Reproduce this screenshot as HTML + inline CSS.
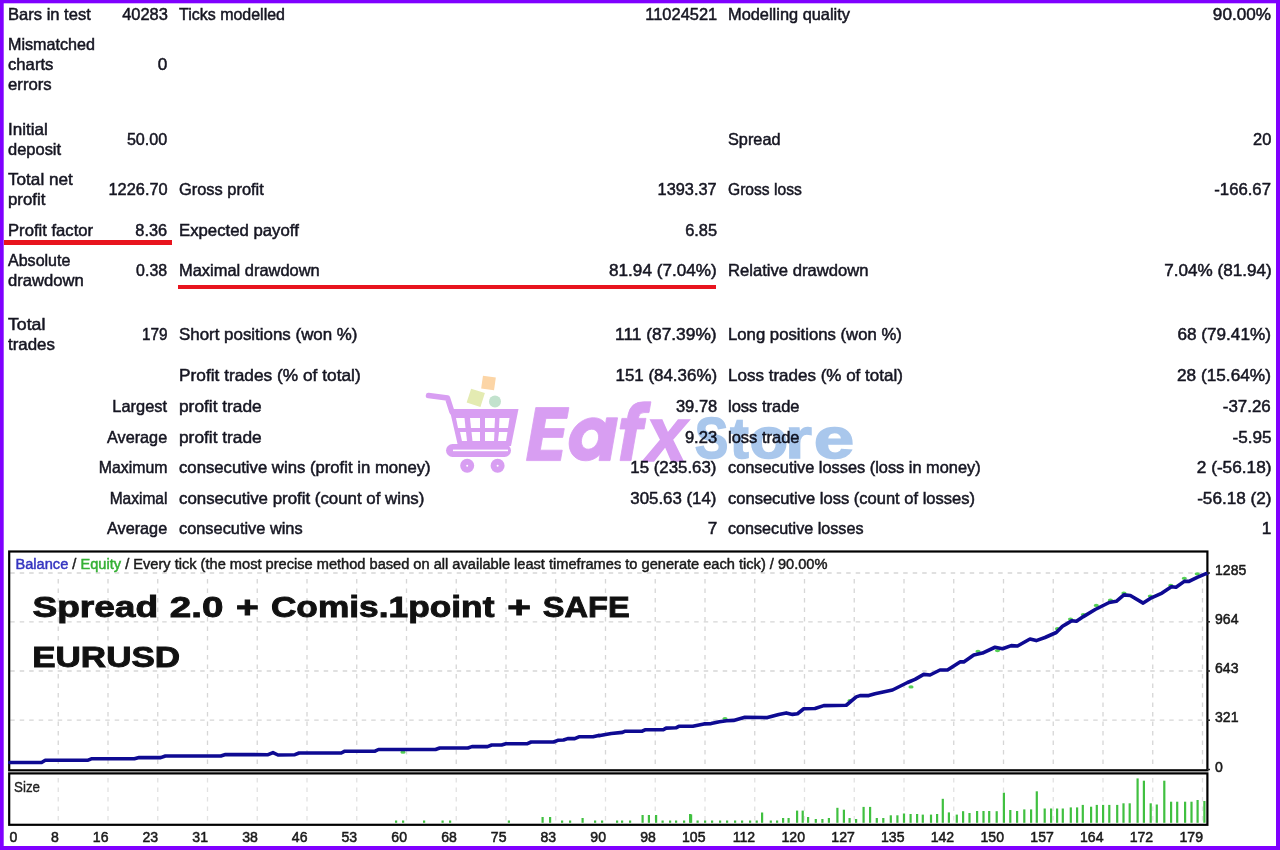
<!DOCTYPE html>
<html><head><meta charset="utf-8">
<style>
html,body{margin:0;padding:0;}
body{width:1280px;height:850px;overflow:hidden;background:#fff;position:relative;filter:blur(0.3px);font-family:"Liberation Sans",sans-serif;}
.frame{position:absolute;left:0;top:0;width:1280px;height:850px;box-sizing:border-box;border-style:solid;border-color:#7f00ff;border-width:3px 4px 4px 3px;pointer-events:none;z-index:10}
.t{position:absolute;white-space:pre;font-size:16.5px;line-height:20px;color:#161622;-webkit-text-stroke:0.5px #161622;}
.ul{position:absolute;background:#e8141e;height:4.5px;}
svg{position:absolute;left:0;top:0;}
</style></head><body>
<div class="t" style="left:7.8px;top:3.63px;transform-origin:0 0;transform:scaleX(1.0031)">Bars in test</div>
<div class="t" style="left:7.8px;top:34.03px;transform-origin:0 0;transform:scaleX(0.9780)">Mismatched</div>
<div class="t" style="left:7.8px;top:54.03px;transform-origin:0 0;transform:scaleX(1.0103)">charts</div>
<div class="t" style="left:7.8px;top:74.03px;transform-origin:0 0;transform:scaleX(1.0141)">errors</div>
<div class="t" style="left:7.8px;top:118.73px;transform-origin:0 0;transform:scaleX(1.0329)">Initial</div>
<div class="t" style="left:7.8px;top:138.73px;transform-origin:0 0;transform:scaleX(0.9978)">deposit</div>
<div class="t" style="left:7.8px;top:169.03px;transform-origin:0 0;transform:scaleX(1.0389)">Total net</div>
<div class="t" style="left:7.8px;top:189.03px;transform-origin:0 0;transform:scaleX(1.0194)">profit</div>
<div class="t" style="left:7.8px;top:219.53px;transform-origin:0 0;transform:scaleX(1.0086)">Profit factor</div>
<div class="t" style="left:7.8px;top:250.03px;transform-origin:0 0;transform:scaleX(0.9717)">Absolute</div>
<div class="t" style="left:7.8px;top:270.03px;transform-origin:0 0;transform:scaleX(1.0077)">drawdown</div>
<div class="t" style="left:7.8px;top:314.33px;transform-origin:0 0;transform:scaleX(1.0729)">Total</div>
<div class="t" style="left:7.8px;top:334.03px;transform-origin:0 0;transform:scaleX(1.0227)">trades</div>
<div class="t" style="left:121.5px;top:3.63px;transform-origin:100% 0;transform:scaleX(0.9969)">40283</div>
<div class="t" style="left:158.2px;top:54.03px;transform-origin:100% 0;transform:scaleX(1.0400)">0</div>
<div class="t" style="left:126.1px;top:128.53px;transform-origin:100% 0;transform:scaleX(0.9783)">50.00</div>
<div class="t" style="left:107.7px;top:178.53px;transform-origin:100% 0;transform:scaleX(0.9924)">1226.70</div>
<div class="t" style="left:135.3px;top:219.53px;transform-origin:100% 0;transform:scaleX(0.9899)">8.36</div>
<div class="t" style="left:135.3px;top:259.53px;transform-origin:100% 0;transform:scaleX(0.9650)">0.38</div>
<div class="t" style="left:139.9px;top:324.03px;transform-origin:100% 0;transform:scaleX(0.9299)">179</div>
<div class="t" style="left:112.4px;top:396.33px;transform-origin:100% 0;transform:scaleX(0.9937)">Largest</div>
<div class="t" style="left:106.2px;top:426.53px;transform-origin:100% 0;transform:scaleX(0.9841)">Average</div>
<div class="t" style="left:95.9px;top:457.43px;transform-origin:100% 0;transform:scaleX(0.9606)">Maximum</div>
<div class="t" style="left:106.0px;top:488.03px;transform-origin:100% 0;transform:scaleX(0.9408)">Maximal</div>
<div class="t" style="left:106.2px;top:518.43px;transform-origin:100% 0;transform:scaleX(0.9841)">Average</div>
<div class="t" style="left:178.8px;top:3.63px;transform-origin:0 0;transform:scaleX(0.9686)">Ticks modelled</div>
<div class="t" style="left:178.8px;top:178.53px;transform-origin:0 0;transform:scaleX(0.9944)">Gross profit</div>
<div class="t" style="left:178.8px;top:219.53px;transform-origin:0 0;transform:scaleX(1.0150)">Expected payoff</div>
<div class="t" style="left:178.8px;top:259.73px;transform-origin:0 0;transform:scaleX(0.9963)">Maximal drawdown</div>
<div class="t" style="left:178.8px;top:323.73px;transform-origin:0 0;transform:scaleX(1.0244)">Short positions (won %)</div>
<div class="t" style="left:178.8px;top:365.03px;transform-origin:0 0;transform:scaleX(1.0483)">Profit trades (% of total)</div>
<div class="t" style="left:178.8px;top:396.33px;transform-origin:0 0;transform:scaleX(1.0485)">profit trade</div>
<div class="t" style="left:178.8px;top:426.53px;transform-origin:0 0;transform:scaleX(1.0485)">profit trade</div>
<div class="t" style="left:178.8px;top:457.43px;transform-origin:0 0;transform:scaleX(1.0124)">consecutive wins (profit in money)</div>
<div class="t" style="left:178.8px;top:488.03px;transform-origin:0 0;transform:scaleX(1.0213)">consecutive profit (count of wins)</div>
<div class="t" style="left:178.8px;top:518.43px;transform-origin:0 0;transform:scaleX(0.9909)">consecutive wins</div>
<div class="t" style="left:644.6px;top:3.63px;transform-origin:100% 0;transform:scaleX(0.9960)">11024521</div>
<div class="t" style="left:657.1px;top:178.53px;transform-origin:100% 0;transform:scaleX(0.9907)">1393.37</div>
<div class="t" style="left:684.7px;top:219.53px;transform-origin:100% 0;transform:scaleX(0.9961)">6.85</div>
<div class="t" style="left:613.1px;top:259.73px;transform-origin:100% 0;transform:scaleX(1.0380)">81.94 (7.04%)</div>
<div class="t" style="left:620.2px;top:323.73px;transform-origin:100% 0;transform:scaleX(1.0515)">111 (87.39%)</div>
<div class="t" style="left:617.7px;top:365.03px;transform-origin:100% 0;transform:scaleX(1.0255)">151 (84.36%)</div>
<div class="t" style="left:675.5px;top:396.33px;transform-origin:100% 0;transform:scaleX(1.0025)">39.78</div>
<div class="t" style="left:684.7px;top:426.53px;transform-origin:100% 0;transform:scaleX(1.0023)">9.23</div>
<div class="t" style="left:632.4px;top:457.43px;transform-origin:100% 0;transform:scaleX(1.0201)">15 (235.63)</div>
<div class="t" style="left:632.4px;top:488.03px;transform-origin:100% 0;transform:scaleX(1.0201)">305.63 (14)</div>
<div class="t" style="left:707.6px;top:518.43px;transform-origin:100% 0;transform:scaleX(1.0400)">7</div>
<div class="t" style="left:727.7px;top:3.63px;transform-origin:0 0;transform:scaleX(0.9926)">Modelling quality</div>
<div class="t" style="left:727.7px;top:128.53px;transform-origin:0 0;transform:scaleX(0.9865)">Spread</div>
<div class="t" style="left:727.7px;top:178.53px;transform-origin:0 0;transform:scaleX(0.9469)">Gross loss</div>
<div class="t" style="left:727.7px;top:259.73px;transform-origin:0 0;transform:scaleX(1.0071)">Relative drawdown</div>
<div class="t" style="left:727.7px;top:323.73px;transform-origin:0 0;transform:scaleX(1.0139)">Long positions (won %)</div>
<div class="t" style="left:727.7px;top:365.03px;transform-origin:0 0;transform:scaleX(1.0308)">Loss trades (% of total)</div>
<div class="t" style="left:727.7px;top:396.33px;transform-origin:0 0;transform:scaleX(0.9993)">loss trade</div>
<div class="t" style="left:727.7px;top:426.53px;transform-origin:0 0;transform:scaleX(0.9993)">loss trade</div>
<div class="t" style="left:727.7px;top:457.43px;transform-origin:0 0;transform:scaleX(0.9908)">consecutive losses (loss in money)</div>
<div class="t" style="left:727.7px;top:488.03px;transform-origin:0 0;transform:scaleX(1.0012)">consecutive loss (count of losses)</div>
<div class="t" style="left:727.7px;top:518.43px;transform-origin:0 0;transform:scaleX(0.9783)">consecutive losses</div>
<div class="t" style="left:1215.2px;top:3.63px;transform-origin:100% 0;transform:scaleX(1.0381)">90.00%</div>
<div class="t" style="left:1252.8px;top:128.53px;transform-origin:100% 0;transform:scaleX(0.9968)">20</div>
<div class="t" style="left:1215.2px;top:178.53px;transform-origin:100% 0;transform:scaleX(1.0131)">-166.67</div>
<div class="t" style="left:1167.5px;top:259.73px;transform-origin:100% 0;transform:scaleX(1.0371)">7.04% (81.94)</div>
<div class="t" style="left:1181.3px;top:323.73px;transform-origin:100% 0;transform:scaleX(1.0390)">68 (79.41%)</div>
<div class="t" style="left:1181.3px;top:365.03px;transform-origin:100% 0;transform:scaleX(1.0446)">28 (15.64%)</div>
<div class="t" style="left:1224.4px;top:396.33px;transform-origin:100% 0;transform:scaleX(1.0257)">-37.26</div>
<div class="t" style="left:1233.6px;top:426.53px;transform-origin:100% 0;transform:scaleX(1.0396)">-5.95</div>
<div class="t" style="left:1199.7px;top:457.43px;transform-origin:100% 0;transform:scaleX(1.0455)">2 (-56.18)</div>
<div class="t" style="left:1199.7px;top:488.03px;transform-origin:100% 0;transform:scaleX(1.0399)">-56.18 (2)</div>
<div class="t" style="left:1262.0px;top:518.43px;transform-origin:100% 0;transform:scaleX(1.0400)">1</div>
<div class="ul" style="left:4px;top:240px;width:168px;"></div>
<div class="ul" style="left:178px;top:284.5px;width:538px;"></div>

<svg width="1280" height="850" viewBox="0 0 1280 850">
 <g stroke="#d6d6d6" stroke-width="1.3" stroke-dasharray="4.5 5" fill="none">
<line x1="58.25" y1="579" x2="58.25" y2="769.3"/>
<line x1="108.00" y1="579" x2="108.00" y2="769.3"/>
<line x1="157.75" y1="579" x2="157.75" y2="769.3"/>
<line x1="207.50" y1="579" x2="207.50" y2="769.3"/>
<line x1="257.25" y1="579" x2="257.25" y2="769.3"/>
<line x1="307.00" y1="579" x2="307.00" y2="769.3"/>
<line x1="356.75" y1="579" x2="356.75" y2="769.3"/>
<line x1="406.50" y1="579" x2="406.50" y2="769.3"/>
<line x1="456.25" y1="579" x2="456.25" y2="769.3"/>
<line x1="506.00" y1="579" x2="506.00" y2="769.3"/>
<line x1="555.75" y1="579" x2="555.75" y2="769.3"/>
<line x1="605.50" y1="579" x2="605.50" y2="769.3"/>
<line x1="655.25" y1="579" x2="655.25" y2="769.3"/>
<line x1="705.00" y1="579" x2="705.00" y2="769.3"/>
<line x1="754.75" y1="579" x2="754.75" y2="769.3"/>
<line x1="804.50" y1="579" x2="804.50" y2="769.3"/>
<line x1="854.25" y1="579" x2="854.25" y2="769.3"/>
<line x1="904.00" y1="579" x2="904.00" y2="769.3"/>
<line x1="953.75" y1="579" x2="953.75" y2="769.3"/>
<line x1="1003.50" y1="579" x2="1003.50" y2="769.3"/>
<line x1="1053.25" y1="579" x2="1053.25" y2="769.3"/>
<line x1="1103.00" y1="579" x2="1103.00" y2="769.3"/>
<line x1="1152.75" y1="579" x2="1152.75" y2="769.3"/>
<line x1="1202.50" y1="579" x2="1202.50" y2="769.3"/>
<line x1="10.2" y1="573" x2="1206.4" y2="573"/>
<line x1="10.2" y1="621.8" x2="1206.4" y2="621.8"/>
<line x1="10.2" y1="671" x2="1206.4" y2="671"/>
<line x1="10.2" y1="720.2" x2="1206.4" y2="720.2"/>
 </g>
 <g stroke="#e2e2e2" stroke-width="1.3" stroke-dasharray="4.5 5" fill="none">
<line x1="58.25" y1="778" x2="58.25" y2="823"/>
<line x1="108.00" y1="778" x2="108.00" y2="823"/>
<line x1="157.75" y1="778" x2="157.75" y2="823"/>
<line x1="207.50" y1="778" x2="207.50" y2="823"/>
<line x1="257.25" y1="778" x2="257.25" y2="823"/>
<line x1="307.00" y1="778" x2="307.00" y2="823"/>
<line x1="356.75" y1="778" x2="356.75" y2="823"/>
<line x1="406.50" y1="778" x2="406.50" y2="823"/>
<line x1="456.25" y1="778" x2="456.25" y2="823"/>
<line x1="506.00" y1="778" x2="506.00" y2="823"/>
<line x1="555.75" y1="778" x2="555.75" y2="823"/>
<line x1="605.50" y1="778" x2="605.50" y2="823"/>
<line x1="655.25" y1="778" x2="655.25" y2="823"/>
<line x1="705.00" y1="778" x2="705.00" y2="823"/>
<line x1="754.75" y1="778" x2="754.75" y2="823"/>
<line x1="804.50" y1="778" x2="804.50" y2="823"/>
<line x1="854.25" y1="778" x2="854.25" y2="823"/>
<line x1="904.00" y1="778" x2="904.00" y2="823"/>
<line x1="953.75" y1="778" x2="953.75" y2="823"/>
<line x1="1003.50" y1="778" x2="1003.50" y2="823"/>
<line x1="1053.25" y1="778" x2="1053.25" y2="823"/>
<line x1="1103.00" y1="778" x2="1103.00" y2="823"/>
<line x1="1152.75" y1="778" x2="1152.75" y2="823"/>
<line x1="1202.50" y1="778" x2="1202.50" y2="823"/>
 </g>
 <rect x="9.2" y="551.5" width="1198.2" height="218.79999999999995" fill="none" stroke="#000" stroke-width="2.2"/>
 <rect x="9.2" y="773.4" width="1198.2" height="51.4" fill="none" stroke="#000" stroke-width="2.2"/>
 <g fill="#40c040">
<rect x="541.5" y="817.0" width="2.2" height="5.8"/>
<rect x="549.0" y="817.0" width="2.2" height="5.8"/>
<rect x="581.5" y="818.0" width="2.2" height="4.8"/>
<rect x="641.5" y="815.0" width="2.2" height="7.8"/>
<rect x="647.8" y="815.0" width="2.2" height="7.8"/>
<rect x="655.0" y="815.0" width="2.2" height="7.8"/>
<rect x="689.0" y="814.0" width="2.2" height="8.8"/>
<rect x="690.0" y="814.4" width="2.2" height="8.4"/>
<rect x="761.0" y="812.5" width="2.2" height="10.3"/>
<rect x="782.0" y="818.0" width="2.2" height="4.8"/>
<rect x="787.5" y="818.0" width="2.2" height="4.8"/>
<rect x="796.0" y="810.6" width="2.2" height="12.2"/>
<rect x="801.6" y="810.6" width="2.2" height="12.2"/>
<rect x="807.0" y="817.0" width="2.2" height="5.8"/>
<rect x="814.7" y="819.0" width="2.2" height="3.8"/>
<rect x="821.3" y="819.0" width="2.2" height="3.8"/>
<rect x="827.8" y="818.0" width="2.2" height="4.8"/>
<rect x="836.3" y="807.8" width="2.2" height="15.0"/>
<rect x="842.8" y="809.7" width="2.2" height="13.1"/>
<rect x="848.5" y="818.0" width="2.2" height="4.8"/>
<rect x="855.0" y="819.0" width="2.2" height="3.8"/>
<rect x="862.5" y="806.9" width="2.2" height="15.9"/>
<rect x="869.0" y="806.9" width="2.2" height="15.9"/>
<rect x="875.7" y="818.0" width="2.2" height="4.8"/>
<rect x="882.2" y="818.0" width="2.2" height="4.8"/>
<rect x="889.7" y="815.3" width="2.2" height="7.5"/>
<rect x="896.3" y="815.3" width="2.2" height="7.5"/>
<rect x="902.9" y="813.5" width="2.2" height="9.3"/>
<rect x="909.5" y="814.0" width="2.2" height="8.8"/>
<rect x="916.0" y="814.0" width="2.2" height="8.8"/>
<rect x="921.7" y="814.6" width="2.2" height="8.2"/>
<rect x="929.9" y="814.6" width="2.2" height="8.2"/>
<rect x="936.0" y="814.0" width="2.2" height="8.8"/>
<rect x="941.7" y="798.8" width="2.2" height="24.0"/>
<rect x="947.8" y="812.4" width="2.2" height="10.4"/>
<rect x="955.7" y="814.6" width="2.2" height="8.2"/>
<rect x="962.0" y="811.2" width="2.2" height="11.6"/>
<rect x="968.4" y="813.0" width="2.2" height="9.8"/>
<rect x="976.0" y="811.0" width="2.2" height="11.8"/>
<rect x="982.4" y="811.0" width="2.2" height="11.8"/>
<rect x="988.1" y="811.0" width="2.2" height="11.8"/>
<rect x="995.6" y="811.2" width="2.2" height="11.6"/>
<rect x="1002.8" y="792.7" width="2.2" height="30.1"/>
<rect x="1009.2" y="810.0" width="2.2" height="12.8"/>
<rect x="1016.0" y="811.0" width="2.2" height="11.8"/>
<rect x="1023.2" y="809.4" width="2.2" height="13.4"/>
<rect x="1030.0" y="809.4" width="2.2" height="13.4"/>
<rect x="1035.7" y="791.3" width="2.2" height="31.5"/>
<rect x="1043.6" y="808.5" width="2.2" height="14.3"/>
<rect x="1050.0" y="808.5" width="2.2" height="14.3"/>
<rect x="1056.0" y="808.5" width="2.2" height="14.3"/>
<rect x="1061.7" y="808.5" width="2.2" height="14.3"/>
<rect x="1069.7" y="807.4" width="2.2" height="15.4"/>
<rect x="1076.0" y="807.4" width="2.2" height="15.4"/>
<rect x="1081.7" y="804.9" width="2.2" height="17.9"/>
<rect x="1090.0" y="806.7" width="2.2" height="16.1"/>
<rect x="1095.7" y="804.9" width="2.2" height="17.9"/>
<rect x="1102.0" y="804.9" width="2.2" height="17.9"/>
<rect x="1108.2" y="804.9" width="2.2" height="17.9"/>
<rect x="1116.1" y="804.9" width="2.2" height="17.9"/>
<rect x="1122.4" y="803.3" width="2.2" height="19.5"/>
<rect x="1128.6" y="803.3" width="2.2" height="19.5"/>
<rect x="1136.5" y="778.4" width="2.2" height="44.4"/>
<rect x="1142.8" y="780.7" width="2.2" height="42.1"/>
<rect x="1149.6" y="803.3" width="2.2" height="19.5"/>
<rect x="1155.7" y="804.5" width="2.2" height="18.3"/>
<rect x="1163.2" y="780.7" width="2.2" height="42.1"/>
<rect x="1170.0" y="801.7" width="2.2" height="21.1"/>
<rect x="1176.1" y="801.7" width="2.2" height="21.1"/>
<rect x="1184.0" y="801.7" width="2.2" height="21.1"/>
<rect x="1190.4" y="801.7" width="2.2" height="21.1"/>
<rect x="1196.5" y="800.0" width="2.2" height="22.8"/>
<rect x="1203.3" y="801.0" width="2.2" height="21.8"/>
<rect x="395.0" y="820.5" width="2.2" height="2.3"/>
<rect x="402.0" y="820.5" width="2.2" height="2.3"/>
<rect x="423.0" y="820.5" width="2.2" height="2.3"/>
<rect x="441.5" y="820.5" width="2.2" height="2.3"/>
<rect x="449.0" y="820.5" width="2.2" height="2.3"/>
<rect x="507.8" y="820.5" width="2.2" height="2.3"/>
<rect x="561.0" y="820.5" width="2.2" height="2.3"/>
<rect x="569.0" y="820.5" width="2.2" height="2.3"/>
<rect x="594.0" y="820.5" width="2.2" height="2.3"/>
<rect x="601.0" y="820.5" width="2.2" height="2.3"/>
<rect x="616.0" y="820.5" width="2.2" height="2.3"/>
<rect x="621.0" y="820.5" width="2.2" height="2.3"/>
<rect x="629.0" y="820.5" width="2.2" height="2.3"/>
<rect x="661.5" y="820.5" width="2.2" height="2.3"/>
<rect x="669.0" y="820.5" width="2.2" height="2.3"/>
<rect x="675.0" y="820.5" width="2.2" height="2.3"/>
<rect x="683.0" y="820.5" width="2.2" height="2.3"/>
<rect x="696.5" y="820.5" width="2.2" height="2.3"/>
<rect x="704.0" y="820.5" width="2.2" height="2.3"/>
<rect x="711.0" y="820.5" width="2.2" height="2.3"/>
<rect x="719.0" y="820.5" width="2.2" height="2.3"/>
<rect x="726.0" y="820.5" width="2.2" height="2.3"/>
<rect x="734.0" y="820.5" width="2.2" height="2.3"/>
<rect x="741.0" y="820.5" width="2.2" height="2.3"/>
<rect x="749.0" y="820.5" width="2.2" height="2.3"/>
<rect x="755.6" y="820.5" width="2.2" height="2.3"/>
<rect x="769.7" y="820.5" width="2.2" height="2.3"/>
<rect x="776.0" y="820.5" width="2.2" height="2.3"/>
 </g>
 <g fill="#55d055">
  <ellipse cx="403" cy="752.2" rx="2.6" ry="1.6"/>
  <ellipse cx="911" cy="686.9" rx="2.6" ry="1.6"/>
  <ellipse cx="978" cy="651.3" rx="2.6" ry="1.6"/>
  <ellipse cx="997.5" cy="650.6" rx="2.6" ry="1.6"/>
  <ellipse cx="1057.5" cy="628.7" rx="2.6" ry="1.6"/>
  <ellipse cx="1070.5" cy="619" rx="2.6" ry="1.6"/>
  <ellipse cx="1083.4" cy="614.6" rx="2.6" ry="1.6"/>
  <ellipse cx="1096.3" cy="605.4" rx="2.6" ry="1.6"/>
  <ellipse cx="1110.4" cy="600.2" rx="2.6" ry="1.6"/>
  <ellipse cx="1123.9" cy="593.1" rx="2.6" ry="1.6"/>
  <ellipse cx="1150.3" cy="596.1" rx="2.6" ry="1.6"/>
  <ellipse cx="1170.8" cy="585.3" rx="2.6" ry="1.6"/>
  <ellipse cx="1184.3" cy="578.3" rx="2.6" ry="1.6"/>
  <ellipse cx="1197.2" cy="573.8" rx="2.6" ry="1.6"/>
  <ellipse cx="850" cy="700.5" rx="2.6" ry="1.6"/>
  <ellipse cx="725" cy="718.5" rx="2.6" ry="1.6"/>
 </g>
 <polyline points="9.7,762.5 41.6,762.5 45.3,760.3 87.5,760.3 91.3,758.8 134.4,758.8 139.1,757.6 160.7,757.6 165.4,756 220.8,756 225.5,754.5 268.1,754.7 273,752.6 278,755 294.9,754.7 299.1,753 341.3,753 344.8,751.2 375,751.2 378.5,749.5 435.5,749.5 439.7,748 467.8,748 472,746.6 487.5,746.6 491.7,745 501.6,745 505.8,743.8 526.9,743.8 531.1,742 553.6,742 557.8,740.3 563.5,740 567.7,738.6 574.7,738.6 578.9,736.8 593,736.8 598.6,735.4 600,735.6 611.25,733.5 622.5,732.35 625.3,731.2 642.2,731.2 645,729.8 663.3,729.8 666.1,728.1 676,727.8 678.8,726.3 692.8,726.3 704,723.9 711.1,723.6 719.5,721.8 726.6,720.8 733.6,720.4 744.9,717.2 767.4,717.6 778.75,714.4 786.25,712.9 792.5,714.4 797.5,713.75 803.75,708.75 815,708.5 823.75,705.6 846.25,705.25 856.25,696.9 860,695.6 868.75,695.6 875,693.75 892.5,690 907.5,682.5 915,679.4 923.75,674.4 930,675 940,670 947.5,670 960,661.9 963.75,661.9 973.75,655 982.5,653.1 995,647.25 1002.5,648.75 1011.25,645.6 1017.5,646 1030,639 1036.25,640.6 1045,637.5 1056.25,632.5 1062.5,626.25 1067,623.6 1071.7,620.7 1076.4,621.3 1083.4,616.6 1095.2,609.5 1109.2,602.5 1116.3,601.3 1123.9,594.9 1130.3,595.5 1143.2,603.1 1151.4,597.8 1162,593.1 1171.4,586.7 1176,587.3 1184.3,581.4 1189,581.4 1197.2,577.3 1205.4,573.8 1207,573.6" fill="none" stroke="#0e0a92" stroke-width="3.6" stroke-linejoin="round" stroke-linecap="round"/>
 <g font-family="Liberation Sans" font-size="15.3" fill="#1a1a1a" stroke="#1a1a1a" stroke-width="0.55">
<text transform="translate(9.6 842) scale(0.92 1)">0</text>
<text transform="translate(58.8 842) scale(0.92 1)" text-anchor="end">8</text>
<text transform="translate(108.5 842) scale(0.92 1)" text-anchor="end">16</text>
<text transform="translate(158.2 842) scale(0.92 1)" text-anchor="end">23</text>
<text transform="translate(208.0 842) scale(0.92 1)" text-anchor="end">31</text>
<text transform="translate(257.8 842) scale(0.92 1)" text-anchor="end">38</text>
<text transform="translate(307.5 842) scale(0.92 1)" text-anchor="end">46</text>
<text transform="translate(357.2 842) scale(0.92 1)" text-anchor="end">53</text>
<text transform="translate(407.0 842) scale(0.92 1)" text-anchor="end">60</text>
<text transform="translate(456.8 842) scale(0.92 1)" text-anchor="end">68</text>
<text transform="translate(506.5 842) scale(0.92 1)" text-anchor="end">75</text>
<text transform="translate(556.2 842) scale(0.92 1)" text-anchor="end">83</text>
<text transform="translate(606.0 842) scale(0.92 1)" text-anchor="end">90</text>
<text transform="translate(655.8 842) scale(0.92 1)" text-anchor="end">98</text>
<text transform="translate(705.5 842) scale(0.92 1)" text-anchor="end">105</text>
<text transform="translate(755.2 842) scale(0.92 1)" text-anchor="end">112</text>
<text transform="translate(805.0 842) scale(0.92 1)" text-anchor="end">120</text>
<text transform="translate(854.8 842) scale(0.92 1)" text-anchor="end">127</text>
<text transform="translate(904.5 842) scale(0.92 1)" text-anchor="end">135</text>
<text transform="translate(954.2 842) scale(0.92 1)" text-anchor="end">142</text>
<text transform="translate(1004.0 842) scale(0.92 1)" text-anchor="end">150</text>
<text transform="translate(1053.8 842) scale(0.92 1)" text-anchor="end">157</text>
<text transform="translate(1103.5 842) scale(0.92 1)" text-anchor="end">164</text>
<text transform="translate(1153.2 842) scale(0.92 1)" text-anchor="end">172</text>
<text transform="translate(1203.0 842) scale(0.92 1)" text-anchor="end">179</text>
<text transform="translate(1215 575) scale(0.92 1)">1285</text>
<text transform="translate(1215 623.8) scale(0.92 1)">964</text>
<text transform="translate(1215 673) scale(0.92 1)">643</text>
<text transform="translate(1215 722.2) scale(0.92 1)">321</text>
<text transform="translate(1215 771.5) scale(0.92 1)">0</text>
 </g>
 <g stroke="#222" stroke-width="1.5"><line x1="1207" y1="573" x2="1210" y2="573"/>
<line x1="1207" y1="621.8" x2="1210" y2="621.8"/>
<line x1="1207" y1="671" x2="1210" y2="671"/>
<line x1="1207" y1="720.2" x2="1210" y2="720.2"/>
<line x1="1207" y1="769.5" x2="1210" y2="769.5"/></g>
 <text x="15.5" y="568.8" font-family="Liberation Sans" font-size="13.8" fill="#1a1a1a" stroke="#1a1a1a" stroke-width="0.45" textLength="812" lengthAdjust="spacingAndGlyphs"><tspan fill="#3535c0" stroke="#3535c0">Balance</tspan> / <tspan fill="#35b035" stroke="#35b035">Equity</tspan> / Every tick (the most precise method based on all available least timeframes to generate each tick) / 90.00%</text>
 <text x="14" y="791.5" font-family="Liberation Sans" font-size="15" fill="#222" stroke="#222" stroke-width="0.35" textLength="26" lengthAdjust="spacingAndGlyphs">Size</text>
 <g font-family="Liberation Sans" font-weight="bold" font-size="30" fill="#111" stroke="#111" stroke-width="0.9">
  <text x="32.4" y="617" textLength="125.8" lengthAdjust="spacingAndGlyphs">Spread</text>
  <text x="169.8" y="617" textLength="53.6" lengthAdjust="spacingAndGlyphs">2.0</text>
  <text x="236.0" y="617" textLength="22.8" lengthAdjust="spacingAndGlyphs">+</text>
  <text x="270.9" y="617" textLength="223.5" lengthAdjust="spacingAndGlyphs">Comis.1point</text>
  <text x="507.3" y="617" textLength="23.7" lengthAdjust="spacingAndGlyphs">+</text>
  <text x="542.8" y="617" textLength="86.8" lengthAdjust="spacingAndGlyphs">SAFE</text>
 </g>
 <text x="32.2" y="667" font-family="Liberation Sans" font-weight="bold" font-size="29" fill="#111" stroke="#111" stroke-width="0.9" textLength="148" lengthAdjust="spacingAndGlyphs">EURUSD</text>
</svg>

<svg width="1280" height="850" viewBox="0 0 1280 850" style="mix-blend-mode:multiply;z-index:5">
 <g fill="#d89ef2">
  <polyline points="428.5,395.5 447.5,398 452,412" fill="none" stroke="#d89ef2" stroke-width="5.5" stroke-linecap="round" stroke-linejoin="round"/>
  <path d="M449.5,409 L518.5,409 L511,446 L458,446 Z"/>
  <rect x="446" y="444" width="65" height="13" rx="6.5"/>
  <circle cx="467.2" cy="465.7" r="7"/>
  <circle cx="497.6" cy="465.7" r="7"/>
 </g>
 <g fill="#fff">
  <path d="M456,418 L464.5,418 L465.5,428 L458,428 Z"/>
  <path d="M470,418 L480,418 L480,428 L471,428 Z"/>
  <path d="M485,418 L495,418 L494.5,428 L485,428 Z"/>
  <path d="M499.5,418 L509.5,418 L508,428 L499,428 Z"/>
  <path d="M460,432 L466,432 L467,441 L462,441 Z"/>
  <path d="M471.5,432 L480,432 L480,441 L472.5,441 Z"/>
  <path d="M485,432 L494.5,432 L494,441 L485,441 Z"/>
  <path d="M499,432 L507.5,432 L506,441 L498,441 Z"/>
  <rect x="453" y="449.6" width="55" height="1.6"/>
  <circle cx="467.2" cy="465.7" r="1"/>
  <circle cx="497.6" cy="465.7" r="1"/>
 </g>
 <rect x="482" y="376.5" width="13" height="13" fill="#fcd5a6" transform="rotate(8 488.5 383)"/>
 <rect x="468.5" y="390.5" width="14.5" height="14.5" fill="#e4ebb2" transform="rotate(18 475.7 397.8)"/>
 <circle cx="495" cy="401.5" r="6" fill="#c2e2cd"/>
 <g fill="#d89ef2" stroke="#d89ef2" stroke-width="0.8" transform="translate(0 460.8) skewX(-10) translate(0 -460.8)">
  <path d="M526.4,407.6 H559.5 V418.4 H538.4 V428.6 H558.6 V437.4 H538.4 V450.2 H560.4 V460.6 H526.4 Z"/>
  <path fill-rule="evenodd" d="M586,417.7 C574.5,417.7 565.7,427.5 565.7,439.2 C565.7,451.5 574.5,460.8 585.5,460.8 C591,460.8 595.5,458.5 599,454.5 V460.6 H610 V417.8 H599 V423.5 C595.5,419.8 591,417.7 586,417.7 Z M586.2,429.2 C581.5,429.2 577.8,433.6 577.8,439.2 C577.8,444.9 581.5,449.2 586.2,449.2 C590.9,449.2 594.6,444.9 594.6,439.2 C594.6,433.6 590.9,429.2 586.2,429.2 Z"/>
  <path d="M620,460.6 V429 H614.4 V418.4 H620 V415 Q620,401.8 633.5,401.8 H640.5 V412.6 H635.5 Q631,412.6 631,416.5 V418.4 H638.5 V429 H631 V460.6 Z"/>
 </g>
 <g font-family="Liberation Sans" font-weight="bold" font-size="76" fill="#d89ef2" stroke="#d89ef2" stroke-width="1.6">
  <text transform="translate(642.4 460.5) skewX(-10) scale(0.966 1.02)">x</text>
 </g>
 <g font-family="Liberation Sans" font-weight="bold" font-size="57" fill="#a9c7ec" stroke="#a9c7ec" stroke-width="1.5">
  <text transform="translate(694.8 458.2) scale(0.884 1)">S</text>
  <text transform="translate(730.1 458.2) scale(0.99 1)">t</text>
  <text transform="translate(749.4 458.2) scale(1.11 1)">o</text>
  <text transform="translate(785.3 458.2) scale(1.2 1)">r</text>
  <text transform="translate(813.7 458.2) scale(1.276 1)">e</text>
 </g>
</svg>
<svg width="1280" height="850" style="z-index:10"><g fill="#7f00ff"><rect x="0" y="0" width="1280" height="3.3"/><rect x="0" y="0" width="3.7" height="850"/><rect x="1276" y="0" width="4" height="850"/><rect x="0" y="846" width="1280" height="4"/></g></svg>
</body></html>
